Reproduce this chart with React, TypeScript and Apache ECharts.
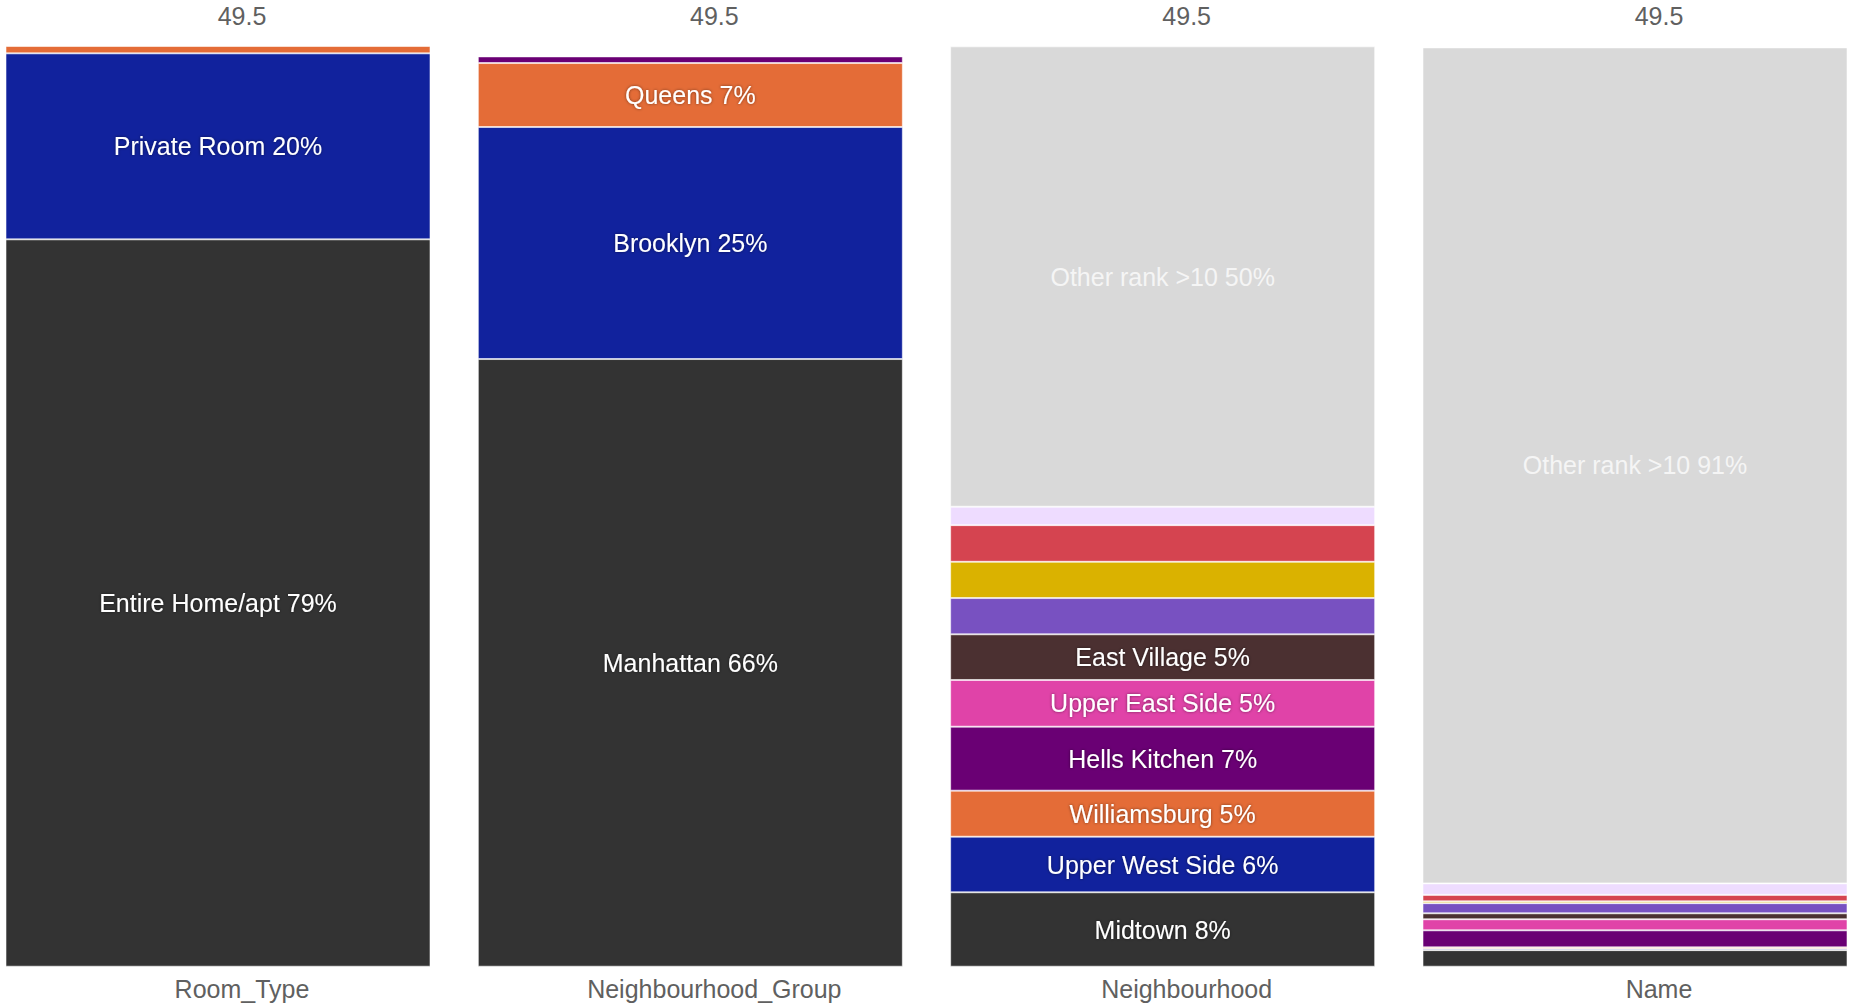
import React, { useEffect, useRef } from 'react';
import * as echarts from 'echarts';

// Columns (x categories) and the header text above each column
const categories = ['Room_Type', 'Neighbourhood_Group', 'Neighbourhood', 'Name'];
const topLabels = ['49.5', '49.5', '49.5', '49.5'];

// Share (%) per rank, bottom to top, for each column
const roomTypeNames = ['Entire Home/apt', 'Private Room', 'Shared Room'];
const roomTypeValues = [79.0, 20.2, 0.8];

const groupNames = ['Manhattan', 'Brooklyn', 'Queens', 'Bronx'];
const groupValues = [66.0, 25.2, 6.95, 0.72];

const neighbourhoodNames = [
  'Midtown', 'Upper West Side', 'Williamsburg', 'Hells Kitchen', 'Upper East Side',
  'East Village', 'Rank 7', 'Rank 8', 'Rank 9', 'Rank 10',
];
const neighbourhoodValues = [8.08, 6.04, 5.0, 6.95, 5.07, 4.96, 3.94, 3.94, 3.98, 2.0];

const nameNames = [
  'Rank 1', 'Rank 2', 'Rank 3', 'Rank 4', 'Rank 5',
  'Rank 6', 'Rank 7', 'Rank 8', 'Rank 9', 'Rank 10',
];
const nameValues = [1.8, 0.15, 0.15, 1.85, 1.2, 0.65, 1.1, 0.2, 0.7, 1.25];

const otherName = 'Other rank >10';
const otherValues: (number | null)[] = [null, null, 50.0, 90.8];

const rankColors = [
  '#333333', '#11229D', '#E46C37', '#6A0074', '#E043A8',
  '#4B3031', '#7851C1', '#DAB200', '#D54450', '#EEDCFF',
];
const otherColor = '#D9D9D9';

const LABEL_MIN = 4.5;
const FONT = '"Liberation Sans", Arial, sans-serif';
const FONT_SIZE = 25;

const colNames = [roomTypeNames, groupNames, neighbourhoodNames, nameNames];
const colValues = [roomTypeValues, groupValues, neighbourhoodValues, nameValues];

export default function App() {
  const ref = useRef<HTMLDivElement>(null);

  useEffect(() => {
    if (!ref.current) return;
    const chart = echarts.init(ref.current, null, { renderer: 'svg' });

    const itemBorder = { borderColor: 'rgba(255,255,255,0.55)', borderWidth: 1 };

    const rankSeries = rankColors.map((color, r) => ({
      type: 'bar',
      name: `Rank ${r + 1}`,
      stack: 'total',
      barWidth: 425,
      clip: false,
      itemStyle: { color, ...itemBorder },
      label: {
        show: true,
        position: 'inside',
        color: '#ffffff',
        fontFamily: FONT,
        fontSize: FONT_SIZE,
        textShadowColor: 'rgba(0,0,0,0.5)',
        textShadowBlur: 3,
        formatter: (p: any) => {
          const v = p.value;
          if (typeof v !== 'number' || v < LABEL_MIN) return '';
          return `${colNames[p.dataIndex][r]} ${Math.round(v)}%`;
        },
      },
      data: colValues.map((vals) => (vals[r] === undefined ? '-' : vals[r])),
    }));

    const otherSeries = {
      type: 'bar',
      name: otherName,
      stack: 'total',
      barWidth: 425,
      clip: false,
      itemStyle: { color: otherColor, ...itemBorder },
      label: {
        show: true,
        position: 'inside',
        color: '#f5f5f5',
        fontFamily: FONT,
        fontSize: FONT_SIZE,
        formatter: (p: any) => {
          const v = p.value;
          if (typeof v !== 'number') return '';
          return `${otherName} ${Math.round(v)}%`;
        },
      },
      data: otherValues.map((v) => (v === null ? '-' : v)),
    };

    const axisCommon = {
      type: 'category',
      data: categories,
      boundaryGap: false,
      axisLine: { show: false },
      axisTick: { show: false },
      splitLine: { show: false },
    };

    chart.setOption({
      animation: false,
      backgroundColor: '#ffffff',
      grid: { left: 218, right: 214, top: 46, bottom: 38.3, containLabel: false },
      xAxis: [
        {
          ...axisCommon,
          position: 'bottom',
          axisLabel: {
            color: '#606060',
            fontFamily: FONT,
            fontSize: FONT_SIZE,
            margin: 10,
            padding: [0, 0, 0, 48],
            interval: 0,
          },
        },
        {
          ...axisCommon,
          position: 'top',
          axisLabel: {
            color: '#606060',
            fontFamily: FONT,
            fontSize: FONT_SIZE,
            margin: 18,
            padding: [0, 0, 0, 48],
            interval: 0,
            formatter: (_: string, i: number) => topLabels[i],
          },
        },
      ],
      yAxis: { type: 'value', min: 0, max: 100, show: false },
      series: [...rankSeries, otherSeries],
    });

    return () => chart.dispose();
  }, []);

  return (
    <div
      ref={ref}
      style={{ position: 'absolute', left: 0, top: 0, width: 1849, height: 1005 }}
    />
  );
}
